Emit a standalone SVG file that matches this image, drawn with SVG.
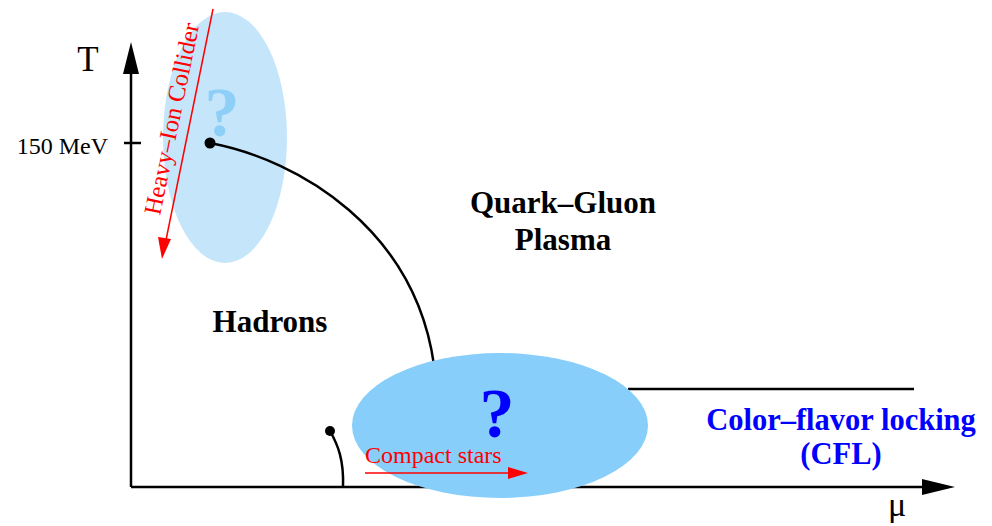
<svg xmlns="http://www.w3.org/2000/svg" width="992" height="526" viewBox="0 0 992 526">
<style>
.serif{font-family:"Liberation Serif","Times New Roman",serif}
.b{font-weight:bold}
.line{stroke:#000;stroke-width:2.5;fill:none}
.red{fill:#ff0000}
</style>
<rect width="992" height="526" fill="#fff"/>
<g id="heavy-ion-region">
<ellipse cx="225" cy="137.5" rx="62" ry="125.5" fill="#c5e5fa"/>
<text x="222" y="136" text-anchor="middle" class="serif b" font-size="70" fill="#8ecff8">?</text>
</g>
<g id="axes">
<line x1="131" y1="487" x2="131" y2="72" class="line"/>
<path d="M123,74 L131,42 L139,74 z" fill="#000"/>
<line x1="131" y1="487" x2="924" y2="487" class="line"/>
<path d="M922,479 L955,487 L922,495 z" fill="#000"/>
<line x1="124" y1="143" x2="141" y2="143" class="line"/>
<text x="108" y="154" text-anchor="end" class="serif" font-size="24">150 MeV</text>
<text x="88" y="71" text-anchor="middle" class="serif" font-size="35">T</text>
<text x="897" y="516" text-anchor="middle" class="serif" font-size="34">μ</text>
</g>
<g id="connectors">
<path d="M210,143 C300,160 415,230 434,365" class="line"/>
<line x1="628" y1="389" x2="914" y2="389" class="line"/>
<path d="M330,431 C338,445 344,460 343,487" class="line"/>
</g>
<g id="critical-point">
<circle cx="210" cy="143" r="5.5" fill="#000"/>
</g>
<g id="heavy-ion-collider">
<line x1="213" y1="9" x2="166" y2="240" stroke="#ff0000" stroke-width="1.5"/>
<path d="M158,237 L162,259 L171,239 z" fill="#ff0000"/>
<text transform="translate(160,216) rotate(-78.4)" class="serif red" font-size="24.5">Heavy–Ion Collider</text>
</g>
<g id="cfl-region">
<ellipse cx="500" cy="425.5" rx="148" ry="72.5" fill="#87cefa"/>
<text x="497" y="437" text-anchor="middle" class="serif b" font-size="70" fill="#0000ff">?</text>
</g>
<g id="small-point">
<circle cx="330" cy="431" r="5" fill="#000"/>
</g>
<g id="compact-stars">
<line x1="365" y1="473" x2="510" y2="473" stroke="#ff0000" stroke-width="1.5"/>
<path d="M508,467 L528,473 L508,479 z" fill="#ff0000"/>
<text x="365" y="463" class="serif red" font-size="24">Compact stars</text>
</g>
<g id="qgp">
<text x="563" y="213" text-anchor="middle" class="serif b" font-size="31">Quark–Gluon</text>
<text x="563" y="250" text-anchor="middle" class="serif b" font-size="31">Plasma</text>
</g>
<g id="hadrons">
<text x="270" y="332" text-anchor="middle" class="serif b" font-size="31">Hadrons</text>
</g>
<g id="cfl-label">
<text x="841" y="430" text-anchor="middle" class="serif b" font-size="30.5" fill="#0000ff">Color–flavor locking</text>
<text x="841" y="464" text-anchor="middle" class="serif b" font-size="30.5" fill="#0000ff">(CFL)</text>
</g>
</svg>
